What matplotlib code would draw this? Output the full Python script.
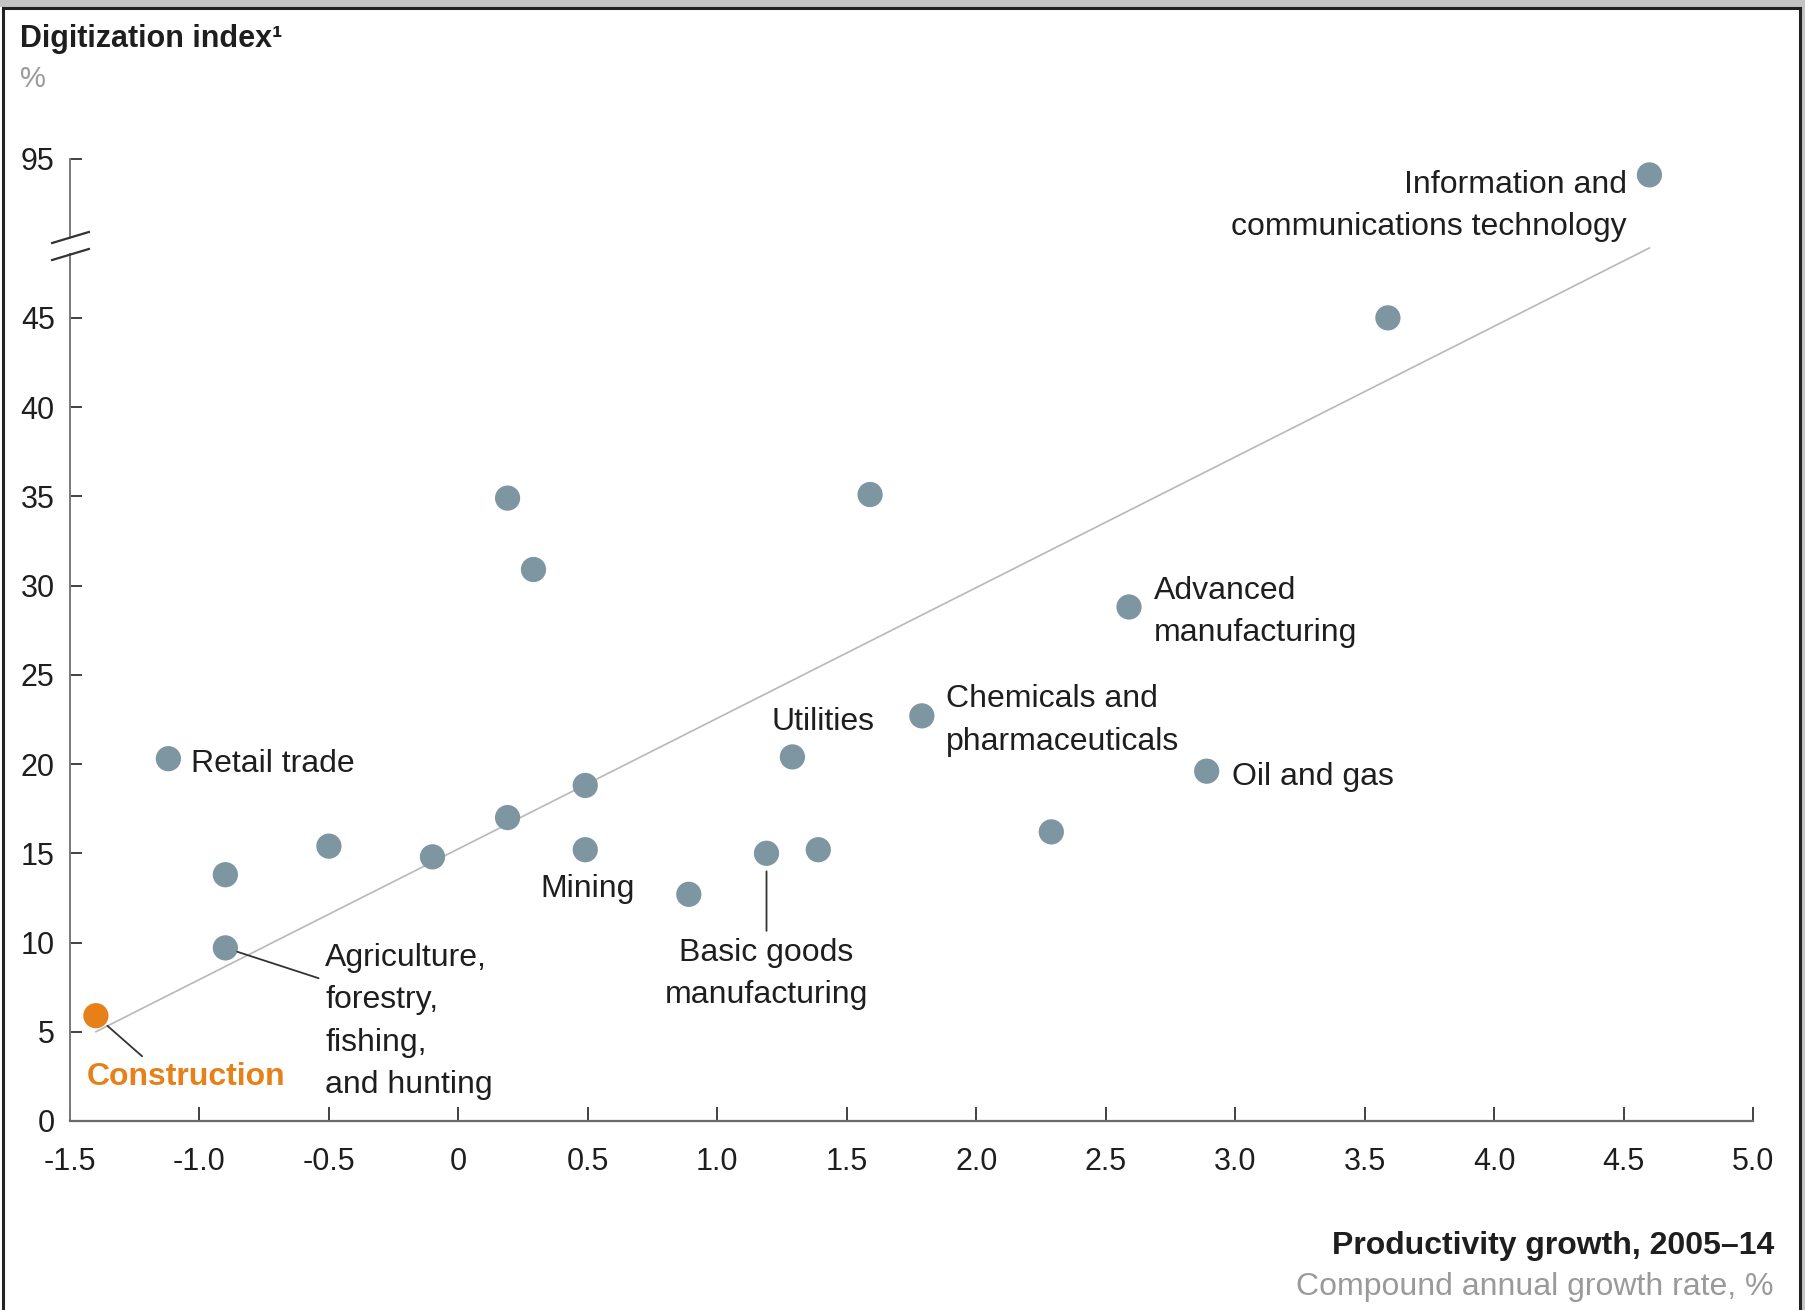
import numpy as np
import matplotlib
matplotlib.use("Agg")
import matplotlib.pyplot as plt
from matplotlib.lines import Line2D
from matplotlib.patches import Rectangle
from matplotlib.path import Path

plt.rcParams["font.family"] = ["Liberation Sans", "DejaVu Sans"]

# productivity growth 2005-14 (CAGR, %) and digitization index (%) by sector
growth = [-1.4, -1.12, -0.9, -0.9, -0.5, -0.1, 0.19, 0.29, 0.19, 0.49, 0.49,
          0.89, 1.19, 1.39, 1.29, 1.59, 1.79, 2.29, 2.59, 2.89, 3.59, 4.6]
digitization = [5.9, 20.3, 13.8, 9.7, 15.4, 14.8, 34.9, 30.9, 17.0, 18.8, 15.2,
                12.7, 15.0, 15.2, 20.4, 35.1, 22.7, 16.2, 28.8, 19.6, 45.0, 90.0]
sectors = ["Construction", "Retail trade", "", "Agriculture,\nforestry,\nfishing,\nand hunting",
           "", "", "", "", "", "", "Mining", "", "Basic goods\nmanufacturing", "",
           "Utilities", "", "Chemicals and\npharmaceuticals", "", "Advanced\nmanufacturing",
           "Oil and gas", "", "Information and\ncommunications technology"]

# trend line end points
trend_x = [-1.4, 4.6]
trend_y = [5.0, 67.0]

x_ticks = [-1.5, -1.0, -0.5, 0, 0.5, 1.0, 1.5, 2.0, 2.5, 3.0, 3.5, 4.0, 4.5, 5.0]
x_ticklabels = ["-1.5", "-1.0", "-0.5", "0", "0.5", "1.0", "1.5", "2.0", "2.5",
                "3.0", "3.5", "4.0", "4.5", "5.0"]
y_ticks = [0, 5, 10, 15, 20, 25, 30, 35, 40, 45, 95]

BLUE_GREY = "#7d96a1"
ORANGE = "#e8801a"
TEXT = "#1e1e1e"
GREY_TEXT = "#9a9a9a"

# y axis is linear up to 45, compressed above it
Y_CUT, SQUEEZE = 45.0, 0.178
BREAK_LO, BREAK_HI = 65.0, 70.5


def squash(y):
    y = np.asarray(y, dtype=float)
    return np.where(y <= Y_CUT, y, Y_CUT + (y - Y_CUT) * SQUEEZE)


def unsquash(t):
    t = np.asarray(t, dtype=float)
    return np.where(t <= Y_CUT, t, Y_CUT + (t - Y_CUT) / SQUEEZE)


# label placement: offset (points), alignment, leader line
label_style = {
    "Construction": dict(xytext=(65, -44), ha="center", color=ORANGE, weight="bold",
                         leader=dict(relpos=(0.31, 1.0), shrinkB=11)),
    "Retail trade": dict(xytext=(16.5, -4), ha="left"),
    "Agriculture,\nforestry,\nfishing,\nand hunting": dict(
        xytext=(72, -53), ha="left", leader=dict(relpos=(0.0, 0.76), shrinkB=9)),
    "Mining": dict(xytext=(1.5, -28), ha="center"),
    "Basic goods\nmanufacturing": dict(xytext=(0, -87), ha="center",
                                       leader=dict(relpos=(0.5, 1.0), shrinkB=13)),
    "Utilities": dict(xytext=(22, 25), ha="center"),
    "Chemicals and\npharmaceuticals": dict(xytext=(17.5, -3.5), ha="left"),
    "Advanced\nmanufacturing": dict(xytext=(18, -3.5), ha="left"),
    "Oil and gas": dict(xytext=(18, -4), ha="left"),
    "Information and\ncommunications technology": dict(xytext=(-16.5, -22.5), ha="right"),
}

W, H = 1806, 1310
fig = plt.figure(figsize=(W / 100, H / 100), dpi=100)
fig.patch.set_facecolor("white")

ax = fig.add_axes([70 / W, 189 / H, (1753 - 70) / W, (1121 - 159) / H])
ax.set_yscale("function", functions=(squash, unsquash))
ax.set_xlim(-1.5, 5.0)
ax.set_ylim(0, 95)

ax.plot(trend_x, trend_y, color="#b8b8b8", lw=1.2, zorder=1)

colors = [ORANGE if s == "Construction" else BLUE_GREY for s in sectors]
ax.scatter(growth, digitization, s=330, c=colors, edgecolors="none", zorder=3)

for gx, dy, name in zip(growth, digitization, sectors):
    if not name:
        continue
    st = dict(label_style[name])
    leader = st.pop("leader", None)
    arrow = None
    if leader:
        arrow = dict(arrowstyle="-", color="#333333", lw=1.3, shrinkA=3,
                     relpos=leader["relpos"], shrinkB=leader["shrinkB"])
    ax.annotate(name, xy=(gx, dy), textcoords="offset points", va="center",
                multialignment=st["ha"], fontsize=23, color=st.pop("color", TEXT),
                linespacing=1.55, arrowprops=arrow, zorder=4, **st)

# axes styling
for side in ("top", "right", "left"):
    ax.spines[side].set_visible(False)
ax.spines["bottom"].set_color("#6a6a6a")
ax.spines["bottom"].set_linewidth(1.6)

ax.set_xticks(x_ticks)
ax.set_xticklabels(x_ticklabels)
ax.set_yticks(y_ticks)
ax.set_yticklabels([str(v) for v in y_ticks])
ax.tick_params(axis="x", direction="in", length=10, width=1.3, color="#333333",
               pad=19, labelsize=22, labelcolor=TEXT)
ax.tick_params(axis="y", direction="in", length=8.5, width=1.3, color="#333333",
               pad=11, labelsize=22, labelcolor=TEXT)

# broken y axis line with slash marks
x0 = ax.get_xlim()[0]
for lo, hi in ((0, BREAK_LO), (BREAK_HI, 95)):
    ax.plot([x0, x0], [lo, hi], color="#7a7a7a", lw=1.4, clip_on=False, zorder=2)
slash = Path([(-1.0, -0.3), (1.0, 0.3)])
ax.plot([x0, x0], [BREAK_LO, BREAK_HI], ls="none", marker=slash, ms=28,
        mew=1.6, mec="#333333", clip_on=False, zorder=5)

# titles
fig.text(20 / W, 1 - 39 / H, "Digitization index¹", fontsize=22, weight="bold",
         color=TEXT, va="center", ha="left")
fig.text(20 / W, 1 - 79 / H, "%", fontsize=21, color=GREY_TEXT, va="center", ha="left")
fig.text(1774 / W, 1 - 1246 / H, "Productivity growth, 2005–14", fontsize=23,
         weight="bold", color=TEXT, va="center", ha="right")
fig.text(1774 / W, 1 - 1287 / H, "Compound annual growth rate, %", fontsize=23,
         color=GREY_TEXT, va="center", ha="right")

# frame around the exhibit
fig.add_artist(Rectangle((0, 1 - 7 / H), 1, 7 / H, transform=fig.transFigure,
                         facecolor="#c4c4c4", edgecolor="none"))
fig.add_artist(Rectangle((1802 / W, 0), 4 / W, 1, transform=fig.transFigure,
                         facecolor="#c4c4c4", edgecolor="none"))
frame = dict(color="#222222", lw=2.2, transform=fig.transFigure)
fig.add_artist(Line2D([3 / W, 1800 / W], [1 - 8 / H, 1 - 8 / H], **frame))
fig.add_artist(Line2D([3 / W, 3 / W], [0, 1 - 8 / H], **frame))
fig.add_artist(Line2D([1800 / W, 1800 / W], [0, 1 - 8 / H], **frame))

fig.savefig("out.png", dpi=100)
